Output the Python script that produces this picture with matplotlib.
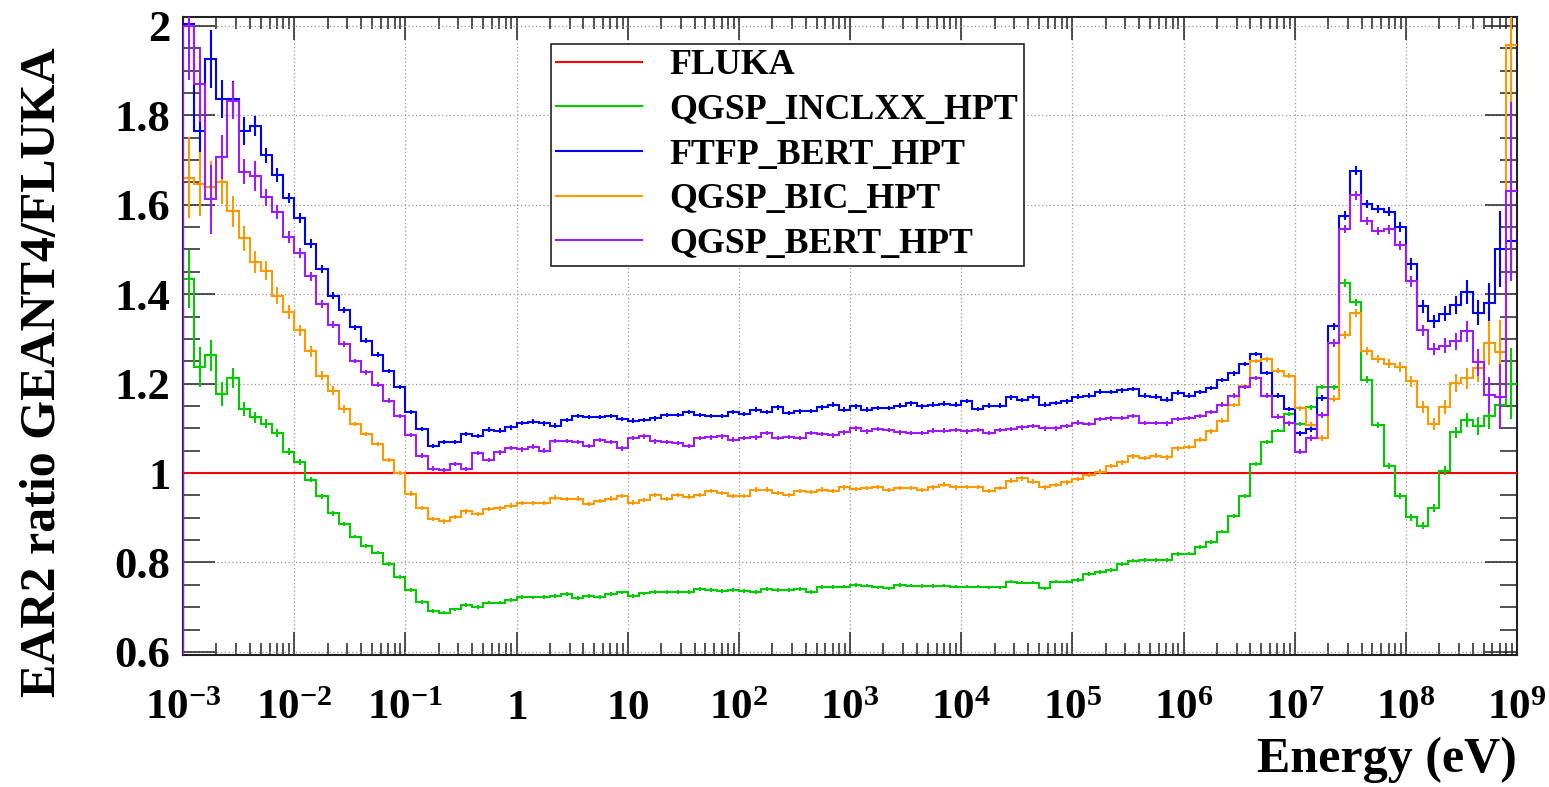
import numpy as np
import matplotlib
matplotlib.use("Agg")
import matplotlib.pyplot as plt
from matplotlib.lines import Line2D
from matplotlib.ticker import FixedLocator, FixedFormatter, LogLocator, NullFormatter, MultipleLocator

plt.rcParams['font.family'] = ['Liberation Serif', 'DejaVu Serif']
plt.rcParams['font.weight'] = 'bold'
plt.rcParams['mathtext.fontset'] = 'custom'
plt.rcParams['mathtext.rm'] = 'Liberation Serif:bold'
plt.rcParams['mathtext.it'] = 'Liberation Serif:bold'
plt.rcParams['mathtext.bf'] = 'Liberation Serif:bold'
plt.rcParams['mathtext.default'] = 'rm'

# ---------------- data: 10 bins per decade, 1 meV .. 1 GeV ----------------
log_e_min, log_e_max, n_bins = -3, 9, 120

fluka = [1.0] * n_bins

qgsp_inclxx = [
    1.434, 1.237, 1.263, 1.177, 1.213, 1.143, 1.125, 1.110, 1.090, 1.048,
    1.025, 0.985, 0.948, 0.910, 0.886, 0.858, 0.837, 0.822, 0.796, 0.768,
    0.738, 0.712, 0.692, 0.688, 0.695, 0.705, 0.701, 0.710, 0.710, 0.716,
    0.723, 0.722, 0.723, 0.725, 0.729, 0.720, 0.725, 0.723, 0.729, 0.733,
    0.725, 0.731, 0.734, 0.734, 0.734, 0.734, 0.740, 0.738, 0.736, 0.738,
    0.736, 0.734, 0.740, 0.739, 0.739, 0.740, 0.734, 0.745, 0.745, 0.746,
    0.749, 0.748, 0.744, 0.742, 0.750, 0.748, 0.747, 0.747, 0.748, 0.746,
    0.746, 0.746, 0.744, 0.744, 0.757, 0.755, 0.755, 0.742, 0.757, 0.757,
    0.761, 0.774, 0.778, 0.783, 0.796, 0.804, 0.805, 0.805, 0.806, 0.819,
    0.820, 0.835, 0.846, 0.869, 0.904, 0.949, 1.020, 1.070, 1.095, 1.132,
    1.110, 1.147, 1.192, 1.192, 1.425, 1.382, 1.209, 1.108, 1.016, 0.948,
    0.901, 0.882, 0.922, 1.005, 1.091, 1.119, 1.106, 1.128, 1.152, 1.200]

ftfp_bert = [
    2.005, 1.766, 1.926, 1.836, 1.836, 1.765, 1.776, 1.711, 1.667, 1.615,
    1.571, 1.513, 1.456, 1.397, 1.364, 1.326, 1.296, 1.265, 1.228, 1.193,
    1.136, 1.098, 1.061, 1.069, 1.070, 1.087, 1.083, 1.097, 1.095, 1.102,
    1.112, 1.115, 1.111, 1.106, 1.119, 1.128, 1.125, 1.125, 1.127, 1.121,
    1.117, 1.119, 1.122, 1.130, 1.130, 1.136, 1.130, 1.128, 1.128, 1.137,
    1.132, 1.142, 1.137, 1.147, 1.134, 1.138, 1.139, 1.147, 1.153, 1.142,
    1.149, 1.142, 1.145, 1.145, 1.151, 1.156, 1.149, 1.153, 1.155, 1.153,
    1.161, 1.143, 1.151, 1.151, 1.169, 1.163, 1.171, 1.153, 1.157, 1.160,
    1.171, 1.173, 1.182, 1.181, 1.185, 1.188, 1.173, 1.171, 1.164, 1.180,
    1.173, 1.181, 1.190, 1.208, 1.223, 1.244, 1.266, 1.224, 1.173, 1.143,
    1.089, 1.098, 1.168, 1.328, 1.576, 1.676, 1.601, 1.591, 1.584, 1.550,
    1.467, 1.373, 1.339, 1.356, 1.375, 1.405, 1.358, 1.380, 1.500, 1.520]

qgsp_bic = [
    1.661, 1.646, 1.640, 1.651, 1.585, 1.525, 1.472, 1.453, 1.397, 1.360,
    1.319, 1.272, 1.218, 1.184, 1.143, 1.110, 1.087, 1.065, 1.029, 1.000,
    0.954, 0.922, 0.897, 0.892, 0.902, 0.914, 0.908, 0.919, 0.921, 0.927,
    0.933, 0.933, 0.933, 0.945, 0.942, 0.943, 0.931, 0.937, 0.943, 0.949,
    0.934, 0.940, 0.951, 0.942, 0.951, 0.947, 0.951, 0.960, 0.955, 0.949,
    0.949, 0.963, 0.963, 0.955, 0.951, 0.960, 0.958, 0.963, 0.960, 0.968,
    0.964, 0.966, 0.969, 0.962, 0.966, 0.966, 0.962, 0.968, 0.974, 0.968,
    0.969, 0.969, 0.960, 0.966, 0.983, 0.988, 0.981, 0.968, 0.973, 0.979,
    0.987, 0.996, 1.003, 1.016, 1.024, 1.037, 1.034, 1.039, 1.035, 1.055,
    1.058, 1.075, 1.093, 1.117, 1.152, 1.194, 1.250, 1.254, 1.229, 1.218,
    1.145, 1.108, 1.078, 1.166, 1.308, 1.358, 1.274, 1.255, 1.244, 1.238,
    1.205, 1.147, 1.110, 1.147, 1.202, 1.212, 1.234, 1.291, 1.270, 1.958]

qgsp_bert = [
    2.000, 1.870, 1.612, 1.707, 1.833, 1.674, 1.664, 1.617, 1.584, 1.528,
    1.492, 1.440, 1.379, 1.332, 1.289, 1.250, 1.225, 1.198, 1.162, 1.128,
    1.085, 1.039, 1.010, 1.007, 1.020, 1.009, 1.045, 1.029, 1.046, 1.056,
    1.053, 1.059, 1.050, 1.072, 1.072, 1.069, 1.060, 1.074, 1.070, 1.055,
    1.078, 1.082, 1.071, 1.070, 1.067, 1.061, 1.078, 1.080, 1.082, 1.075,
    1.078, 1.080, 1.089, 1.078, 1.081, 1.078, 1.090, 1.087, 1.084, 1.091,
    1.100, 1.093, 1.098, 1.096, 1.091, 1.090, 1.090, 1.095, 1.095, 1.096,
    1.093, 1.096, 1.090, 1.096, 1.099, 1.102, 1.105, 1.100, 1.100, 1.105,
    1.113, 1.110, 1.121, 1.122, 1.123, 1.128, 1.112, 1.112, 1.111, 1.121,
    1.123, 1.128, 1.136, 1.153, 1.173, 1.193, 1.212, 1.173, 1.126, 1.111,
    1.048, 1.078, 1.130, 1.291, 1.545, 1.621, 1.563, 1.541, 1.545, 1.509,
    1.429, 1.319, 1.277, 1.285, 1.295, 1.317, 1.248, 1.175, 1.171, 1.630]

# statistical errors (low-energy head, flat middle, high-energy tail)
err_inclxx = ([0.065, 0.044, 0.035, 0.026, 0.022, 0.015, 0.012, 0.010, 0.009, 0.008,
               0.007, 0.006, 0.006, 0.005, 0.005] + [0.004] * 85 +
              [0.004, 0.005, 0.005, 0.006, 0.008, 0.008, 0.007, 0.007, 0.007, 0.007,
               0.008, 0.008, 0.009, 0.010, 0.012, 0.015, 0.020, 0.030, 0.045, 0.080])
err_ftfp = ([0.012, 0.050, 0.065, 0.043, 0.040, 0.032, 0.022, 0.017, 0.015, 0.012,
             0.011, 0.010, 0.009, 0.008, 0.007] + [0.005] * 85 +
            [0.006, 0.006, 0.007, 0.008, 0.009, 0.010, 0.009, 0.009, 0.010, 0.011,
             0.013, 0.014, 0.015, 0.017, 0.020, 0.026, 0.028, 0.045, 0.085, 0.080])
err_bic = ([0.091, 0.071, 0.058, 0.050, 0.035, 0.028, 0.025, 0.022, 0.018, 0.015,
            0.013, 0.012, 0.011, 0.010, 0.009] + [0.005] * 85 +
           [0.006, 0.006, 0.007, 0.008, 0.009, 0.010, 0.009, 0.009, 0.010, 0.011,
            0.012, 0.013, 0.014, 0.016, 0.020, 0.024, 0.030, 0.050, 0.073, 0.160])
err_bert = ([0.120, 0.084, 0.077, 0.050, 0.041, 0.028, 0.034, 0.019, 0.016, 0.013,
             0.011, 0.010, 0.009, 0.008, 0.007] + [0.005] * 85 +
            [0.006, 0.006, 0.007, 0.008, 0.009, 0.010, 0.009, 0.009, 0.010, 0.011,
             0.012, 0.013, 0.014, 0.016, 0.019, 0.024, 0.030, 0.040, 0.073, 0.200])

labels = ["FLUKA", "QGSP_INCLXX_HPT", "FTFP_BERT_HPT", "QGSP_BIC_HPT", "QGSP_BERT_HPT"]
colors = ["#ff0000", "#00cc00", "#0000ff", "#ff9900", "#9b1cff"]
values = [fluka, qgsp_inclxx, ftfp_bert, qgsp_bic, qgsp_bert]
errors = [None, err_inclxx, err_ftfp, err_bic, err_bert]

x_major = [1e-3, 1e-2, 1e-1, 1, 10, 1e2, 1e3, 1e4, 1e5, 1e6, 1e7, 1e8, 1e9]
x_labels = [r"$10^{-3}$", r"$10^{-2}$", r"$10^{-1}$", r"$1$", r"$10$", r"$10^{2}$",
            r"$10^{3}$", r"$10^{4}$", r"$10^{5}$", r"$10^{6}$", r"$10^{7}$",
            r"$10^{8}$", r"$10^{9}$"]
y_major = [0.6, 0.8, 1.0, 1.2, 1.4, 1.6, 1.8, 2.0]
y_labels = ["0.6", "0.8", "1", "1.2", "1.4", "1.6", "1.8", "2"]

YMIN, YMAX = 0.593, 2.02

# ---------------- figure ----------------
W, H = 1549, 787
fig = plt.figure(figsize=(W / 100, H / 100), dpi=100)
ax = fig.add_axes([183 / W, 1 - 655 / H, (1517 - 183) / W, (655 - 17) / H])

edges = np.logspace(log_e_min, log_e_max, n_bins + 1)
centers = np.sqrt(edges[:-1] * edges[1:])

lw = 1.5
for vals, errs, col in zip(values, errors, colors):
    v = np.asarray(vals)
    ax.stairs(v, edges, baseline=None, color=col, lw=lw, zorder=3)
    ax.vlines(edges[0], YMIN, v[0], color=col, lw=lw, zorder=3)
    if errs is not None:
        e = np.asarray(errs)
        ax.vlines(centers, v - e, v + e, color=col, lw=lw, zorder=3)

ax.set_xscale('log')
ax.set_xlim(edges[0], edges[-1])
ax.set_ylim(YMIN, YMAX)

ax.xaxis.set_major_locator(FixedLocator(x_major))
ax.xaxis.set_major_formatter(FixedFormatter(x_labels))
ax.xaxis.set_minor_locator(LogLocator(base=10, subs=np.arange(2, 10), numticks=200))
ax.xaxis.set_minor_formatter(NullFormatter())
ax.yaxis.set_major_locator(FixedLocator(y_major))
ax.yaxis.set_major_formatter(FixedFormatter(y_labels))
ax.yaxis.set_minor_locator(MultipleLocator(0.05))

ax.tick_params(which='both', direction='in', top=True, right=True, colors='#222222',
               labelcolor='black')
ax.tick_params(axis='x', which='major', length=16.5, width=1.1, labelsize=31, pad=46)
ax.tick_params(axis='x', which='minor', length=8.5, width=1.1)
ax.tick_params(axis='y', which='major', length=23, width=1.1, labelsize=32, pad=9)
ax.tick_params(axis='y', which='minor', length=12, width=1.1)
for lab in ax.get_xticklabels():
    lab.set_verticalalignment('baseline')

ax.grid(True, which='major', linestyle=(0, (1, 2)), color='#999999', lw=0.9)
ax.set_axisbelow(True)
for s in ax.spines.values():
    s.set_linewidth(1.5)
    s.set_color('#222222')

ax.set_ylabel("EAR2 ratio GEANT4/FLUKA", fontsize=36, fontweight='bold', loc='top')
ax.yaxis.set_label_coords(-0.088, 0.953)
ax.set_xlabel("Energy (eV)", fontsize=36, fontweight='bold', loc='right')
ax.xaxis.set_label_coords(1.0, -0.128)

handles = [Line2D([], [], color=c, lw=lw) for c in colors]
leg = ax.legend(handles, labels, loc='upper left',
                bbox_to_anchor=(551 / W, 1 - 44 / H), bbox_transform=fig.transFigure,
                prop={'family': 'Liberation Serif', 'weight': 'bold', 'size': 25.8},
                frameon=True, fancybox=False, framealpha=1, edgecolor='#222222',
                borderpad=0.15, labelspacing=0.32, handlelength=2.4,
                handletextpad=0.76, borderaxespad=0)
leg.get_frame().set_linewidth(1.2)
leg.set_zorder(10)

fig.savefig("out.png", dpi=100)
